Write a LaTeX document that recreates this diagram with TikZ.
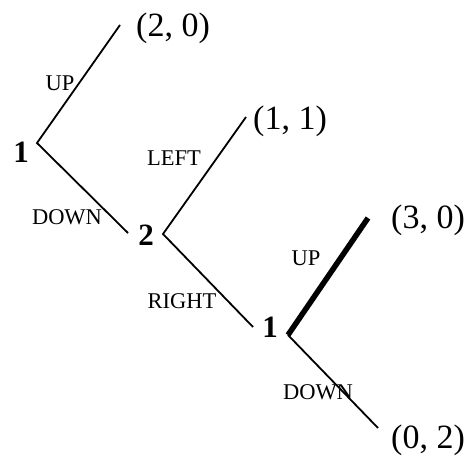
\documentclass[tikz,border=0pt]{standalone}
\usepackage{fontspec}
\setmainfont{Liberation Serif}
\usetikzlibrary{positioning}

\tikzset{
  branch/.style={line width=1.8pt},
  chosen/.style={line width=5.5pt},
  player/.style={font=\fontsize{31}{31}\selectfont\bfseries, inner sep=0pt},
  payoff/.style={font=\fontsize{34}{34}\selectfont, inner sep=0pt},
  move/.style={font=\fontsize{22.5}{22.5}\selectfont, inner sep=0pt}
}

\begin{document}
\begin{tikzpicture}[x=1pt,y=-1pt]
\useasboundingbox (0,0) rectangle (474,460);
% decision points
\coordinate (v1) at (37,143);
\coordinate (v2) at (163,234);
\coordinate (v3) at (288,335);
% branch ends
\coordinate (up1) at (120,25);
\coordinate (down1) at (128,233);
\coordinate (left2) at (246,117);
\coordinate (right2) at (253,327);
\coordinate (up3) at (368,218);
\coordinate (down3) at (378,428);
% players
\node[player] (p1) at (21,152) {1};
\node[player] (p2) at (146,235) {2};
\node[player] (p3) at (270,327) {1};
% payoffs
\node[payoff] (o20) at (173,28) {(2, 0)};
\node[payoff] (o11) at (290,121) {(1, 1)};
\node[payoff] (o30) at (428,220) {(3, 0)};
\node[payoff] (o02) at (428,440) {(0, 2)};
% branches
\draw[branch] (up1) -- (v1) -- (down1);
\draw[branch] (left2) -- (v2) -- (right2);
\draw[chosen] (up3) -- (v3);
\draw[branch] (v3) -- (down3);
% moves
\node[move] (m1u) at (60,83) {UP};
\node[move] (m1d) at (67,217) {DOWN};
\node[move] (m2l) at (174,158) {LEFT};
\node[move] (m2r) at (182,301) {RIGHT};
\node[move] (m3u) at (306,258) {UP};
\node[move] (m3d) at (318,392) {DOWN};
\end{tikzpicture}
\end{document}
